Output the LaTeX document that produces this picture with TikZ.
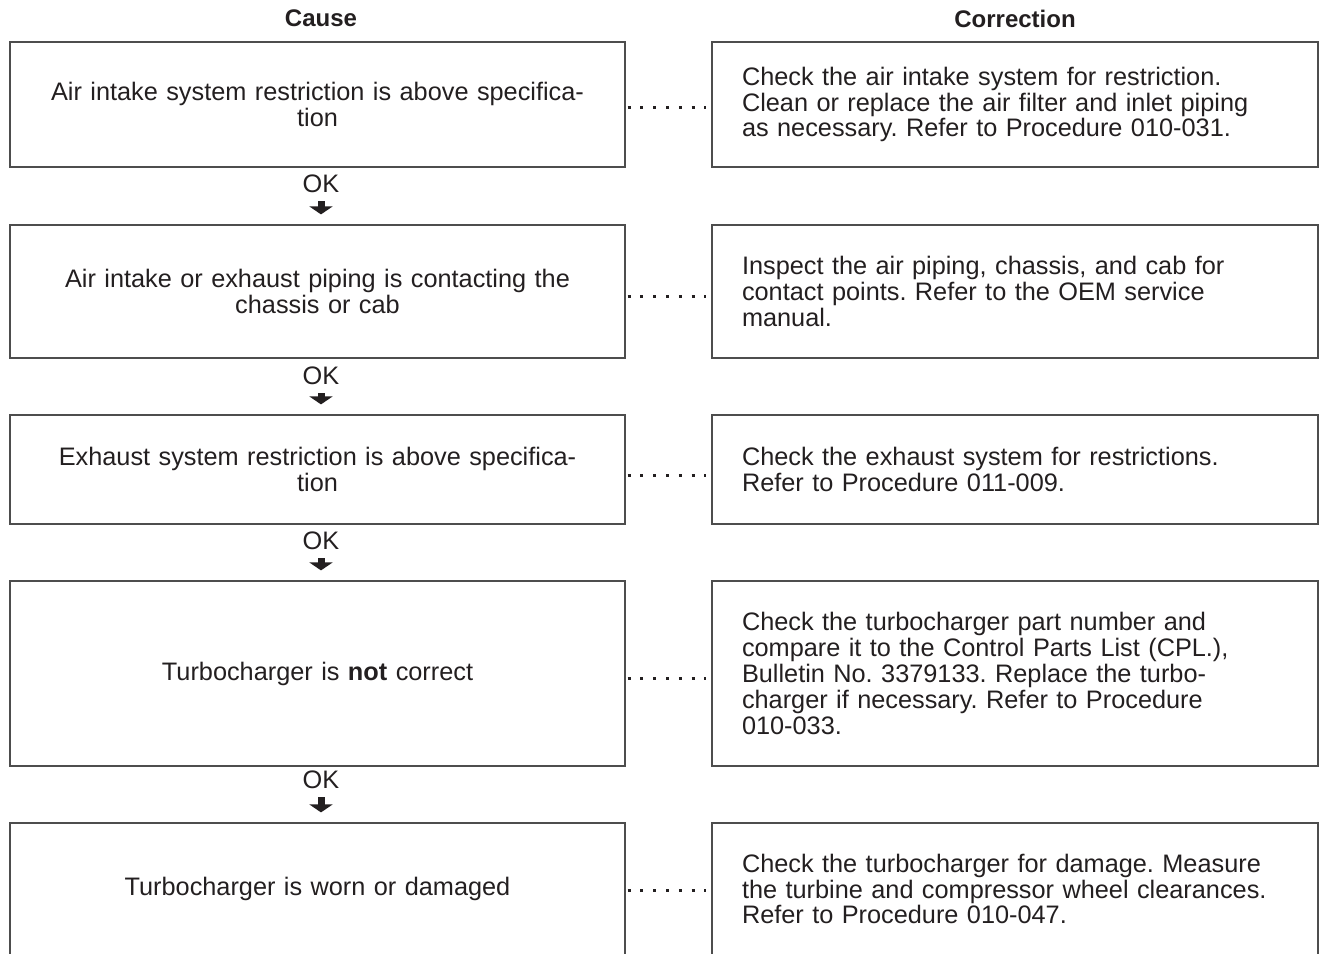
\documentclass[tikz,border=0pt]{standalone}
\usepackage{fontspec}
\setmainfont{Liberation Sans}
\usetikzlibrary{arrows.meta}
\definecolor{ink}{HTML}{231F20}
\definecolor{frame}{HTML}{4D4D4D}
\frenchspacing
\begin{document}
\begin{tikzpicture}[x=1pt,y=-1pt,
  txt/.style={font=\fontsize{25.3}{25.8}\selectfont\frenchspacing, text=ink},
  cause/.style={txt, draw=frame, line width=1.2pt, text width=595pt, align=center, inner xsep=10pt, inner ysep=0pt},
  corr/.style={txt, draw=frame, line width=1.2pt, text width=546pt, align=left, inner xsep=30pt, inner ysep=0pt},
  head/.style={font=\fontsize{24}{26}\selectfont\bfseries, text=ink, inner sep=0pt},
  oklabel/.style={txt, inner sep=0pt},
  okarrow/.style={draw=ink, line width=7pt, -{Triangle[width=23pt,length=8pt]}},
  dotline/.style={draw=ink, line width=3pt, dash pattern=on 3pt off 9.8pt, shorten <=2pt, shorten >=5pt}
]
\clip (0,0) rectangle (1319,953);
\useasboundingbox (0,0) rectangle (1319,953);

\node[head] (hc) at (321,18.5) {Cause};
\node[head] (hr) at (1015,18.5) {Correction};

\node[cause, minimum height=125pt] (c1) at (317.5,104.5) {Air intake system restriction is above specifica-\\tion};
\node[corr, minimum height=125pt] (r1) at (1015,104.5) {Check the air intake system for restriction.\\Clean or replace the air filter and inlet piping\\as necessary. Refer to Procedure 010-031.};

\node[cause, minimum height=133pt] (c2) at (317.5,291.5) {Air intake or exhaust piping is contacting the\\chassis or cab};
\node[corr, minimum height=133pt] (r2) at (1015,291.5) {Inspect the air piping, chassis, and cab for\\contact points. Refer to the OEM service\\manual.};

\node[cause, minimum height=109pt] (c3) at (317.5,469.5) {Exhaust system restriction is above specifica-\\tion};
\node[corr, minimum height=109pt] (r3) at (1015,469.5) {Check the exhaust system for restrictions.\\Refer to Procedure 011-009.};

\node[cause, minimum height=185pt] (c4) at (317.5,673.5) {Turbocharger is \textbf{not} correct};
\node[corr, minimum height=185pt] (r4) at (1015,673.5) {Check the turbocharger part number and\\compare it to the Control Parts List (CPL.),\\Bulletin No. 3379133. Replace the turbo-\\charger if necessary. Refer to Procedure\\010-033.};

\node[cause, minimum height=132pt] (c5) at (317.5,889) {Turbocharger is worn or damaged};
\node[corr, minimum height=132pt] (r5) at (1015,889) {Check the turbocharger for damage. Measure\\the turbine and compressor wheel clearances.\\Refer to Procedure 010-047.};

\node[oklabel] (ok1) at (321,184) {OK};
\node[oklabel] (ok2) at (321,376) {OK};
\node[oklabel] (ok3) at (321,541) {OK};
\node[oklabel] (ok4) at (321,780) {OK};

\draw[okarrow, shorten <=8pt, shorten >=10pt] (ok1.south) -- (ok1.south |- c2.north);
\draw[okarrow, shorten <=8pt, shorten >=10pt] (ok2.south) -- (ok2.south |- c3.north);
\draw[okarrow, shorten <=8pt, shorten >=10pt] (ok3.south) -- (ok3.south |- c4.north);
\draw[okarrow, shorten <=8pt, shorten >=10pt] (ok4.south) -- (ok4.south |- c5.north);

\draw[dotline] ([yshift=-2.5pt]c1.east) -- ([yshift=-2.5pt]c1.east -| r1.west);
\draw[dotline] ([yshift=-5pt]c2.east) -- ([yshift=-5pt]c2.east -| r2.west);
\draw[dotline] ([yshift=-6pt]c3.east) -- ([yshift=-6pt]c3.east -| r3.west);
\draw[dotline] ([yshift=-4.5pt]c4.east) -- ([yshift=-4.5pt]c4.east -| r4.west);
\draw[dotline] ([yshift=-1pt]c5.east) -- ([yshift=-1pt]c5.east -| r5.west);
\end{tikzpicture}
\end{document}
